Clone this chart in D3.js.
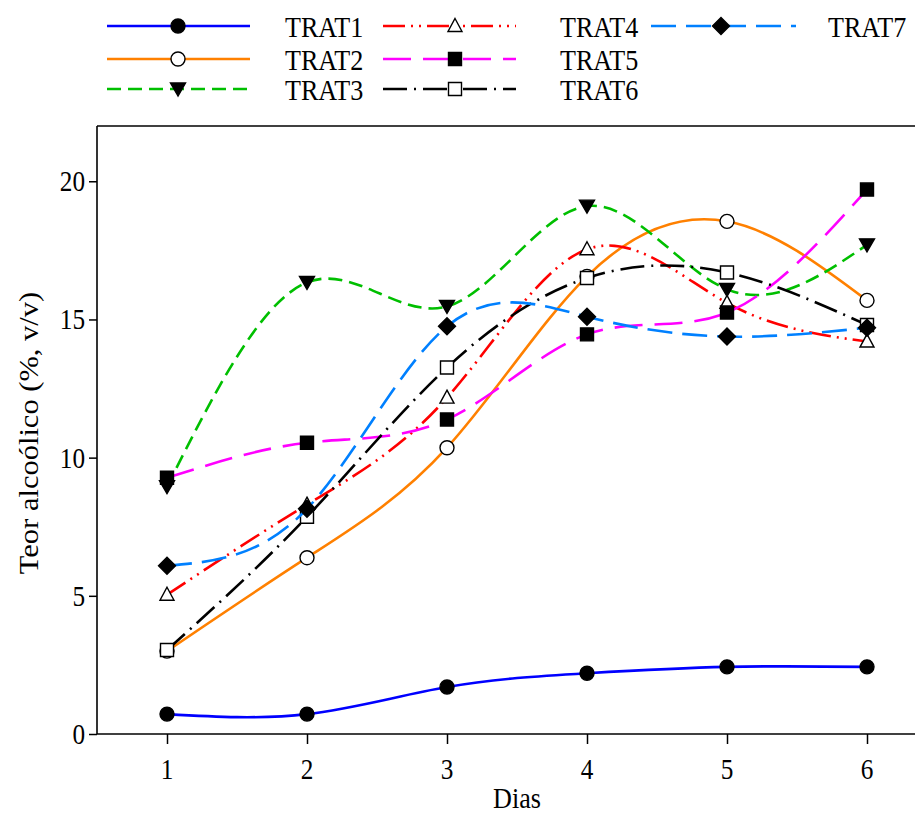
<!DOCTYPE html>
<html>
<head>
<meta charset="utf-8">
<script src="https://cdn.jsdelivr.net/npm/d3@7"></script>
<style>
  html, body { margin: 0; padding: 0; background: #fff; }
  svg { display: block; }
  text { font-family: "Liberation Serif", "DejaVu Serif", serif; fill: #000; }
</style>
</head>
<body>
<svg id="chart" width="915" height="814"></svg>
<script>
// ---- data ----
const days = [1, 2, 3, 4, 5, 6];
const xTicks = [1, 2, 3, 4, 5, 6];
const yTicks = [0, 5, 10, 15, 20];
const seriesNames = ["TRAT1", "TRAT2", "TRAT3", "TRAT4", "TRAT5", "TRAT6", "TRAT7"];
const trat1 = [0.72, 0.72, 1.70, 2.20, 2.43, 2.43];
const trat2 = [3.00, 6.38, 10.36, 16.56, 18.55, 15.69];
const trat3 = [8.95, 16.34, 15.47, 19.10, 16.09, 17.70];
const trat4 = [5.04, 8.30, 12.17, 17.54, 15.60, 14.20];
const trat5 = [9.27, 10.54, 11.38, 14.46, 15.25, 19.70];
const trat6 = [3.04, 7.86, 13.26, 16.50, 16.70, 14.80];
const trat7 = [6.09, 8.15, 14.75, 15.10, 14.38, 14.70];
const seriesValues = [trat1, trat2, trat3, trat4, trat5, trat6, trat7];

// ---- styles ----
const styles = [
  { color: "#0000ff", dash: null,                marker: "circleFilled" },
  { color: "#ff8000", dash: null,                marker: "circleOpen" },
  { color: "#00bf00", dash: "14 7",              marker: "triDown" },
  { color: "#ff0000", dash: "22 6 2 6 2 6",      marker: "triUpOpen" },
  { color: "#ff00ff", dash: "28 12",             marker: "squareFilled" },
  { color: "#000000", dash: "24 7 2 7",          marker: "squareOpen" },
  { color: "#0080ff", dash: "25 10",             marker: "diamond" }
];

const SX = 0.87; // horizontal glyph compression of the reference

const svg = d3.select("#chart");
const x = d3.scaleLinear().domain([0.5, 6.5]).range([97, 937]);
const y = d3.scaleLinear().domain([0, 22]).range([734, 126]);

// marker paths
function markerPath(type) {
  switch (type) {
    case "circleFilled":
    case "circleOpen":
      return d3.symbol(d3.symbolCircle, Math.PI * 7 * 7)();
    case "triDown":
      return "M0,7L-7.5,-6L7.5,-6Z";
    case "triUpOpen":
      return "M0,-7.5L7,5.5L-7,5.5Z";
    case "squareFilled":
    case "squareOpen":
      return "M-6.5,-6.5H6.5V6.5H-6.5Z";
    case "diamond":
      return "M0,-8.5L8.5,0L0,8.5L-8.5,0Z";
  }
}
function markerFill(type) {
  return (type === "circleOpen" || type === "triUpOpen" || type === "squareOpen") ? "#fff" : "#000";
}

// ---- frame / axes ----
const gx = svg.append("g").attr("transform", "translate(0,734)")
  .call(d3.axisBottom(x).tickValues(xTicks).tickSize(10).tickFormat(d3.format("d")));
gx.select(".domain").remove();
gx.selectAll(".tick line").attr("stroke", "#000").attr("stroke-width", 1.5);
gx.selectAll(".tick text").remove();

const gy = svg.append("g").attr("transform", "translate(97,0)")
  .call(d3.axisLeft(y).tickValues(yTicks).tickSize(8));
gy.select(".domain").remove();
gy.selectAll(".tick line").attr("stroke", "#000").attr("stroke-width", 1.5);
gy.selectAll(".tick text").remove();

// frame lines
svg.append("line").attr("x1", 97).attr("x2", 937).attr("y1", 734).attr("y2", 734)
  .attr("stroke", "#000").attr("stroke-width", 1.6);
svg.append("line").attr("x1", 97).attr("x2", 937).attr("y1", 126).attr("y2", 126)
  .attr("stroke", "#000").attr("stroke-width", 1.6);
svg.append("line").attr("x1", 97).attr("x2", 97).attr("y1", 126).attr("y2", 734)
  .attr("stroke", "#000").attr("stroke-width", 1.6);

// tick labels (compressed text)
xTicks.forEach(t => {
  svg.append("text")
    .attr("transform", `translate(${x(t)},779) scale(${SX},1)`)
    .attr("text-anchor", "middle").attr("font-size", 29).text(t);
});
yTicks.forEach(t => {
  svg.append("text")
    .attr("transform", `translate(85,${y(t) + 10}) scale(${SX},1)`)
    .attr("text-anchor", "end").attr("font-size", 29).text(t);
});

// axis titles
svg.append("text")
  .attr("transform", `translate(517,808) scale(${SX},1)`)
  .attr("text-anchor", "middle").attr("font-size", 30).text("Dias");
svg.append("text")
  .attr("transform", `translate(38,433) scale(${SX},1) rotate(-90)`)
  .attr("text-anchor", "middle").attr("font-size", 30.5).text("Teor alcoólico (%, v/v)");

// ---- series ----
const line = d3.line().x((d, i) => x(days[i])).y(d => y(d)).curve(d3.curveNatural);
seriesValues.forEach((vals, si) => {
  const st = styles[si];
  const g = svg.append("g");
  g.append("path").attr("d", line(vals))
    .attr("fill", "none").attr("stroke", st.color).attr("stroke-width", 2.6)
    .attr("stroke-dasharray", st.dash);
  g.selectAll("path.m").data(vals).enter().append("path").attr("class", "m")
    .attr("d", markerPath(st.marker))
    .attr("transform", (d, i) => `translate(${x(days[i])},${y(d)})`)
    .attr("fill", markerFill(st.marker))
    .attr("stroke", "#000").attr("stroke-width", 1.4);
});

// ---- legend ----
const legCols = [
  { x1: 107, x2: 250, mx: 178, tx: 285 },
  { x1: 383, x2: 516, mx: 455, tx: 560 },
  { x1: 651, x2: 796, mx: 721, tx: 828 }
];
const legRows = [26, 59, 89];
seriesNames.forEach((name, i) => {
  const col = legCols[Math.floor(i / 3)];
  const ry = legRows[i % 3];
  const st = styles[i];
  const g = svg.append("g");
  g.append("line").attr("x1", col.x1).attr("x2", col.x2).attr("y1", ry).attr("y2", ry)
    .attr("stroke", st.color).attr("stroke-width", 2.6).attr("stroke-dasharray", st.dash);
  g.append("path").attr("d", markerPath(st.marker))
    .attr("transform", `translate(${col.mx},${ry})`)
    .attr("fill", markerFill(st.marker)).attr("stroke", "#000").attr("stroke-width", 1.4);
  g.append("text")
    .attr("transform", `translate(${col.tx},${ry + 11}) scale(${SX},1)`)
    .attr("font-size", 30).text(name);
});
</script>
</body>
</html>
